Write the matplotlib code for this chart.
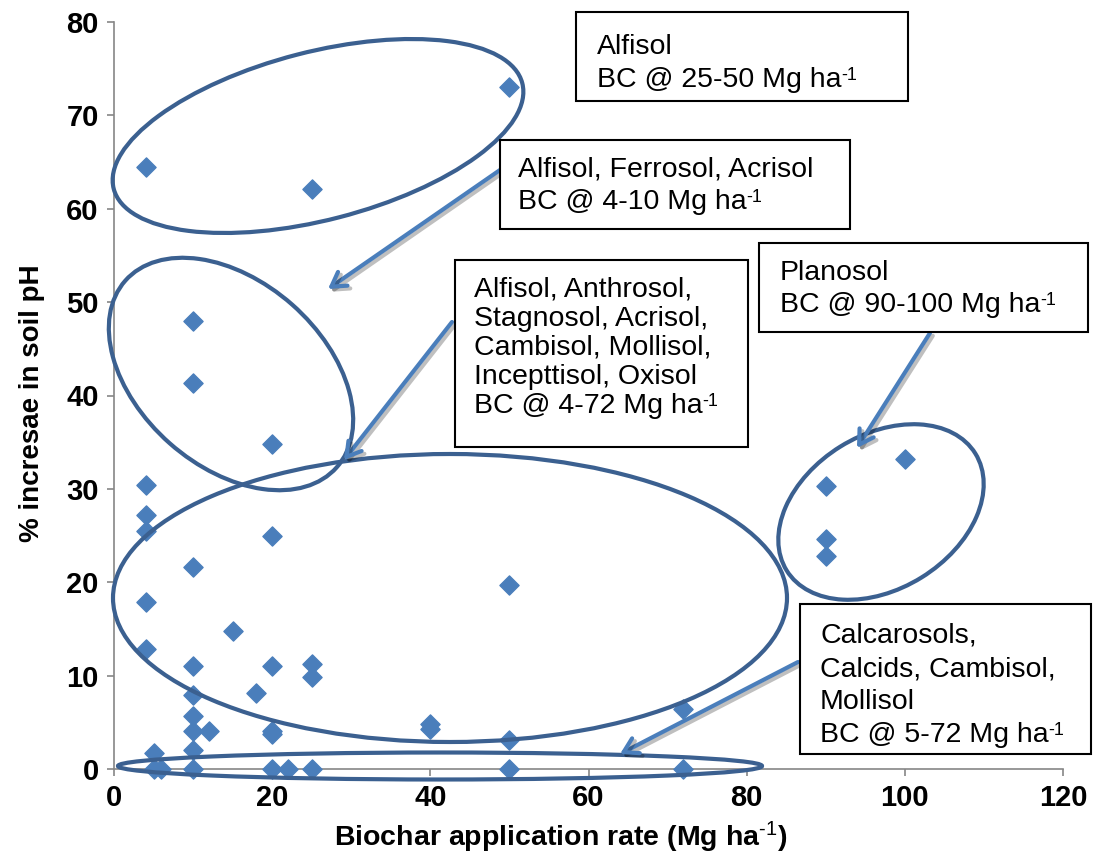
import matplotlib
matplotlib.use("Agg")
import matplotlib.pyplot as plt
from matplotlib.patches import Ellipse, Rectangle, FancyArrowPatch
from matplotlib.text import Annotation
from matplotlib.transforms import Affine2D
import matplotlib.patheffects as pe

plt.rcParams['font.family'] = ['Liberation Sans', 'DejaVu Sans']
plt.rcParams['mathtext.fontset'] = 'custom'
plt.rcParams['mathtext.rm'] = 'Liberation Sans'
plt.rcParams['mathtext.bf'] = 'Liberation Sans:bold'
plt.rcParams['mathtext.default'] = 'regular'

# biochar rate (Mg/ha) and % increase in soil pH
rate = [50, 4, 25, 10, 10, 20, 4, 4, 4, 20,
        10, 4, 15, 4, 10, 20, 25, 25, 18, 10,
        10, 10, 12, 10, 5, 5, 6, 10, 20, 20,
        20, 22, 25, 40, 40, 50, 50, 50, 72, 72,
        90, 90, 90, 100]
ph_inc = [73.0, 64.5, 62.1, 48.0, 41.3, 34.8, 30.4, 27.2, 25.5, 25.0,
          21.6, 17.9, 14.8, 12.9, 11.0, 11.0, 11.2, 9.8, 8.1, 7.9,
          5.7, 4.1, 4.1, 2.0, 1.7, 0.0, 0.0, 0.0, 4.1, 3.7,
          0.0, 0.0, 0.0, 4.8, 4.3, 19.7, 3.1, 0.0, 6.4, 0.0,
          30.3, 24.6, 22.8, 33.2]

# last line of each note ends with "ha" and gets a "-1" superscript
notes = [
    ["Alfisol", "BC @ 25-50 Mg ha"],
    ["Alfisol, Ferrosol, Acrisol", "BC @ 4-10 Mg ha"],
    ["Alfisol, Anthrosol,", "Stagnosol, Acrisol,", "Cambisol, Mollisol,",
     "Incepttisol, Oxisol", "BC @ 4-72 Mg ha"],
    ["Planosol", "BC @ 90-100 Mg ha"],
    ["Calcarosols,", "Calcids, Cambisol,", "Mollisol", "BC @ 5-72 Mg ha"],
]

W, H = 1093, 858
fig = plt.figure(figsize=(W / 100, H / 100), dpi=100)
ax = fig.add_axes([114 / W, 1 - 769 / H, (1063 - 114) / W, (769 - 22) / H])

ax.scatter(rate, ph_inc, marker='D', s=95, color='#4A7EBB', clip_on=False, zorder=3)

ax.set_xlim(0, 120)
ax.set_ylim(0, 80)
ax.set_xticks(range(0, 121, 20))
ax.set_yticks(range(0, 81, 10))
for s in ['top', 'right']:
    ax.spines[s].set_visible(False)
for s in ['left', 'bottom']:
    ax.spines[s].set_color('#868686')
    ax.spines[s].set_linewidth(1.2)
ax.tick_params(direction='out', length=5, width=1.2, color='#868686', labelsize=21, pad=6)
for lab in ax.get_xticklabels() + ax.get_yticklabels():
    lab.set_fontweight('bold')
ax.set_xlabel(r"Biochar application rate (Mg ha$^{\mathbf{\text{-1}}}$)", fontsize=20.5,
              fontweight='bold')
ax.set_ylabel("% incresae in soil pH", fontsize=20, fontweight='bold')
ax.xaxis.set_label_coords(0.471, -0.068)
ax.yaxis.set_label_coords(-0.073, 0.49)

# pixel coords of the picture, y down
T = Affine2D().scale(1 / W, -1 / H).translate(0, 1) + fig.transFigure

# ellipses: center x, center y, width, height, angle
ells = [(318, 136, 422, 168, -14.5),
        (231, 374, 282, 185, 41.4),
        (450, 598, 674, 288, 0),
        (440, 766, 644, 27, 0),
        (881, 512, 222, 154, -31.8)]
for cx, cy, w, h, a in ells:
    fig.patches.append(Ellipse((cx, cy), w, h, angle=a, fill=False, ec='#3B6090',
                               lw=3, transform=T, zorder=5))

# boxes: x0, y0, x1, y1, text left, first line centre, line step
boxes = [(576, 12, 908, 101, 597, 45, 33),
         (500, 140, 850, 229, 518, 168, 32),
         (455, 260, 748, 447, 474, 288, 28.9),
         (759, 243, 1088, 332, 780, 271, 32),
         (800, 604, 1091, 754, 820, 634, 33)]
for (x0, y0, x1, y1, tx, ty, step), lines in zip(boxes, notes):
    fig.patches.append(Rectangle((x0, y0), x1 - x0, y1 - y0, fill=True, fc='white',
                                 ec='black', lw=1.5, transform=T, zorder=6))
    for i, line in enumerate(lines):
        t = fig.text(tx, ty + i * step + 9, line, transform=T, fontsize=20.5,
                     va='baseline', ha='left', zorder=7)
    fig.add_artist(Annotation("-1", xy=(1, 1.0), xycoords=t, fontsize=13,
                              va='top', ha='left', zorder=7))

# arrows: tail -> head
arrows = [((500, 170), (328, 289)),
          ((452, 322), (344, 460)),
          ((930, 333), (857, 448)),
          ((798, 662), (620, 754))]
for tail, head in arrows:
    fig.add_artist(FancyArrowPatch(
        tail, head, transform=T, arrowstyle='->,head_length=10,head_width=6',
        color='#4A7EBB', lw=3, zorder=6, shrinkA=0, shrinkB=0,
        path_effects=[pe.SimpleLineShadow(offset=(2, -2), alpha=0.25), pe.Normal()]))

fig.savefig("out.png", dpi=100)
